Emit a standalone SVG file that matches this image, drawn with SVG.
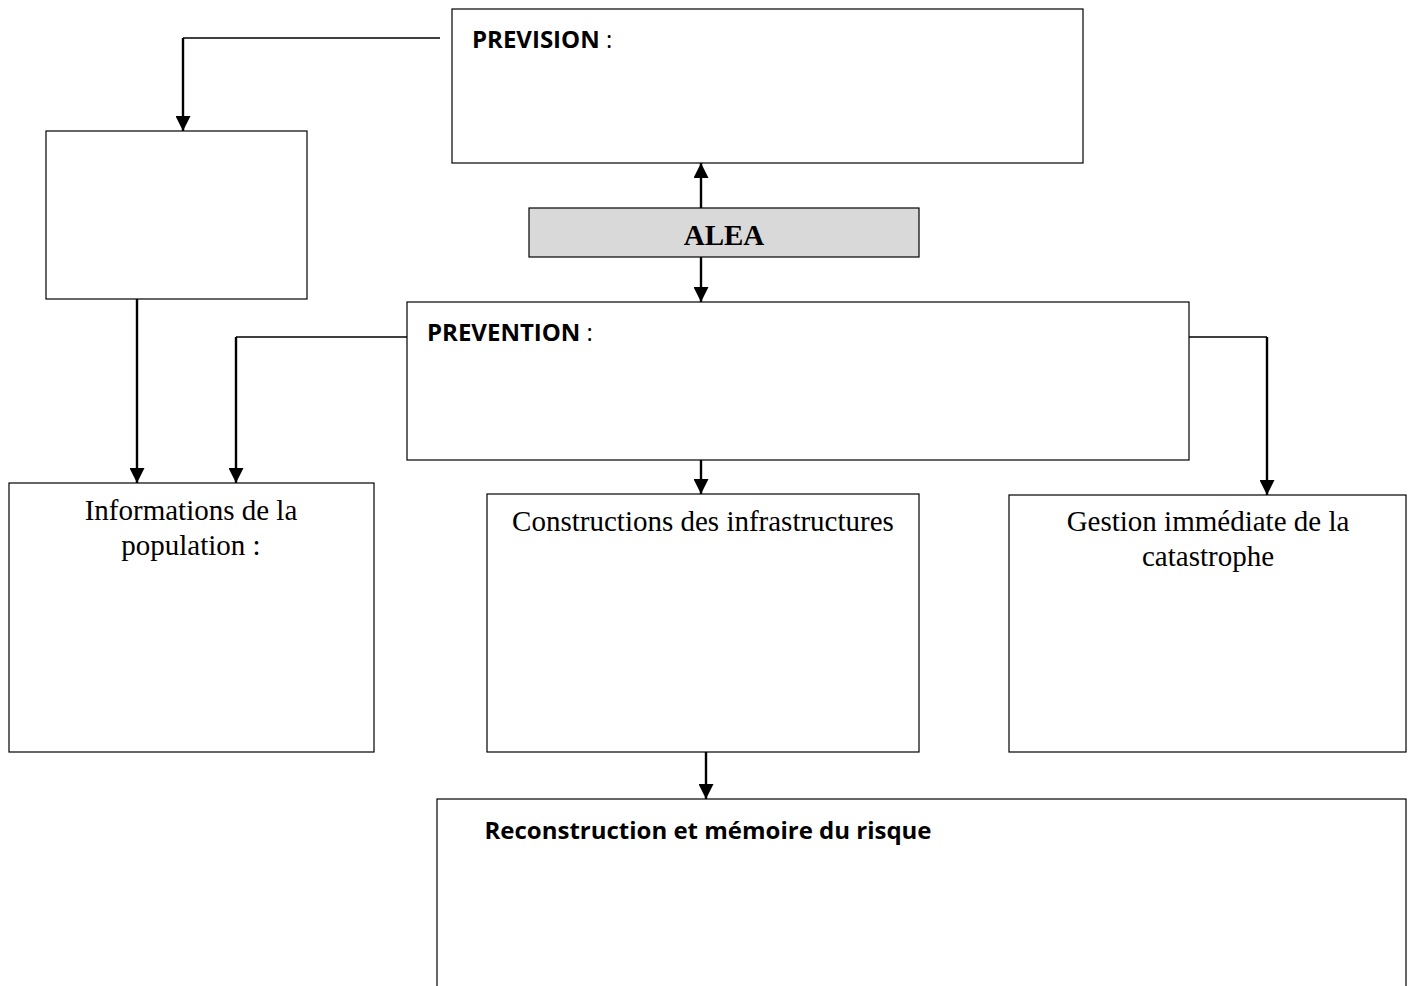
<svg xmlns="http://www.w3.org/2000/svg" width="1414" height="986" viewBox="0 0 1414 986">
<style>
.box{fill:#fff;stroke:#000;stroke-width:1.2}
.alea{fill:#d9d9d9;stroke:#000;stroke-width:1.2}
.sb{font-family:"Open Sans","Liberation Sans",sans-serif;font-weight:bold;font-size:24px;fill:#000}
.sr{font-weight:normal}
.serif{font-family:"Liberation Serif",serif;font-size:29px;fill:#000}
.hl{fill:none;stroke:#000;stroke-width:1.5}
.ar{fill:none;stroke:#000;stroke-width:2.4}
</style>
<defs>
<marker id="ah" markerWidth="15" markerHeight="15" refX="15" refY="7.5" orient="auto" markerUnits="userSpaceOnUse" viewBox="0 0 15 15">
<path d="M0,0 L15,7.5 L0,15 Z" fill="#000"/>
</marker>
</defs>
<rect width="1414" height="986" fill="#fff"/>
<g id="prevision"><rect class="box" x="452" y="9" width="631" height="154"/><text class="sb" x="472" y="48">PREVISION<tspan class="sr"> :</tspan></text></g>
<g id="leftbox"><rect class="box" x="46" y="131" width="261" height="168"/></g>
<g id="alea"><rect class="alea" x="529" y="208" width="390" height="49"/><text class="serif" x="724" y="245" text-anchor="middle" font-weight="bold">ALEA</text></g>
<g id="prevention"><rect class="box" x="407" y="302" width="782" height="158"/><text class="sb" x="427" y="341">PREVENTION<tspan class="sr"> :</tspan></text></g>
<g id="information"><rect class="box" x="9" y="483" width="365" height="269"/><text class="serif" x="191" y="520" text-anchor="middle">Informations de la</text><text class="serif" x="191" y="555" text-anchor="middle">population :</text></g>
<g id="constructions"><rect class="box" x="487" y="494" width="432" height="258"/><text class="serif" x="703" y="531" text-anchor="middle">Constructions des infrastructures</text></g>
<g id="gestion"><rect class="box" x="1009" y="495" width="397" height="257"/><text class="serif" x="1208" y="531" text-anchor="middle">Gestion immédiate de la</text><text class="serif" x="1208" y="566" text-anchor="middle">catastrophe</text></g>
<g id="reconstruction"><rect class="box" x="437" y="799" width="969" height="200"/><text class="sb" x="708" y="839" text-anchor="middle">Reconstruction et mémoire du risque</text></g>
<g id="connectors">
<line class="hl" x1="440" y1="38" x2="183" y2="38"/>
<line class="ar" x1="183" y1="38" x2="183" y2="131" marker-end="url(#ah)"/>
<line class="ar" x1="701" y1="208" x2="701" y2="163" marker-end="url(#ah)"/>
<line class="ar" x1="701" y1="257" x2="701" y2="302" marker-end="url(#ah)"/>
<line class="ar" x1="137" y1="299" x2="137" y2="483" marker-end="url(#ah)"/>
<line class="hl" x1="407" y1="337" x2="236" y2="337"/>
<line class="ar" x1="236" y1="337" x2="236" y2="483" marker-end="url(#ah)"/>
<line class="hl" x1="1189" y1="337" x2="1267" y2="337"/>
<line class="ar" x1="1267" y1="337" x2="1267" y2="495" marker-end="url(#ah)"/>
<line class="ar" x1="701" y1="460" x2="701" y2="494" marker-end="url(#ah)"/>
<line class="ar" x1="706" y1="752" x2="706" y2="799" marker-end="url(#ah)"/>
</g>
</svg>
